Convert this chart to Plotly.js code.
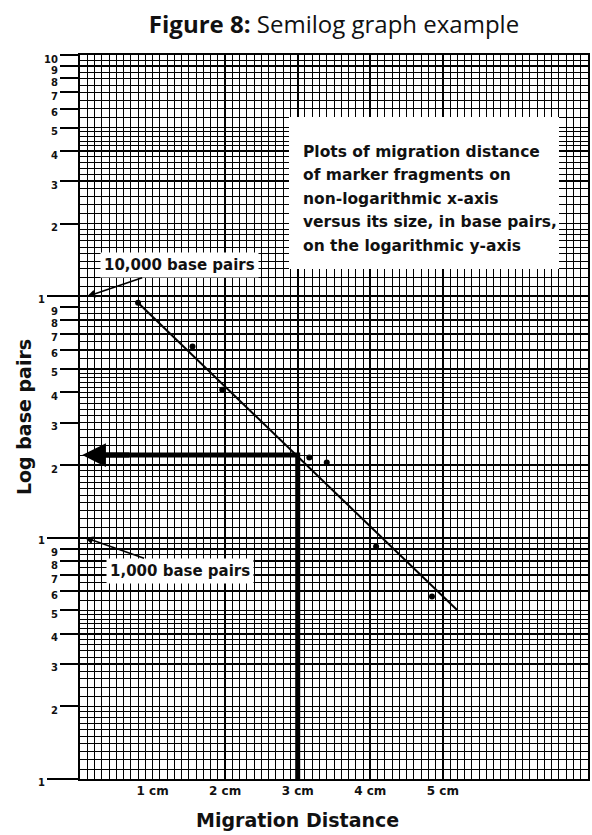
<!DOCTYPE html>
<html>
<head>
<meta charset="utf-8">
<script src="https://cdn.plot.ly/plotly-3.0.1.min.js"></script>
<style>html,body{margin:0;padding:0;background:#fff;}#chart{width:592px;height:835px;}</style>
</head>
<body>
<div id="chart"></div>
<script>
// ---- data ----
const markerDistanceCm = [0.80, 1.55, 1.96, 3.16, 3.40, 4.08, 4.85];
const markerBasePairs  = [9400, 6200, 4100, 2150, 2050, 920, 570];
const fitDistanceCm = [0.80, 5.20];
const fitBasePairs  = [9400, 500];
const readDistanceCm = 3;
const readBasePairs  = 2200;

const xTickVals = [1, 2, 3, 4, 5, 6, 7];
const xTickText = ['1 cm', '2 cm', '3 cm', '4 cm', '5 cm', '', ''];

const yTickVals = [200, 300, 400, 500, 600, 700, 800, 900,
                   2000, 3000, 4000, 5000, 6000, 7000, 8000, 9000,
                   20000, 30000, 40000, 50000, 60000, 70000, 80000, 90000, 100000];
const yTickText = ['2','3','4','5','6','7','8','9',
                   '2','3','4','5','6','7','8','9',
                   '2','3','4','5','6','7','8','9','10'];
const yDecadeVals = [100, 1000, 10000];
const yDecadeText = ['1', '1', '1'];

const infoText = ['Plots of migration distance', 'of marker fragments on',
                  'non-logarithmic x-axis', 'versus its size, in base pairs,',
                  'on the logarithmic y-axis'];

// minor grid subdivisions of the semilog paper
const yMinor = [];
[100, 1000, 10000].forEach(function (d) {
  for (let v = 1.1; v < 2 - 1e-9; v += 0.1) yMinor.push(+(v * d).toFixed(3));
  for (let v = 2.2; v < 5 - 1e-9; v += 0.2) { if (Math.abs(v - Math.round(v)) > 1e-6) yMinor.push(+(v * d).toFixed(3)); }
  for (let v = 5.5; v < 10 - 1e-9; v += 1) yMinor.push(+(v * d).toFixed(3));
});

const gothic = '"DejaVu Sans", sans-serif';
const ink = '#111';

const traces = [
  { x: [readDistanceCm, readDistanceCm, 0.3], y: [100, readBasePairs, readBasePairs],
    mode: 'lines', line: { color: '#000', width: 5 }, hoverinfo: 'skip', showlegend: false, cliponaxis: false },
  { x: fitDistanceCm, y: fitBasePairs, mode: 'lines', line: { color: '#000', width: 2 }, showlegend: false },
  { x: markerDistanceCm, y: markerBasePairs, mode: 'markers', marker: { color: '#000', size: 6 }, showlegend: false },
  { x: [null], y: [null], yaxis: 'y2', mode: 'markers', showlegend: false, hoverinfo: 'skip' }
];

const infoAnnotations = infoText.map(function (line, i) {
  const centerPx = 151.5 + i * 23.5;
  return { xref: 'paper', yref: 'paper', x: (301 - 80) / 508, y: 1 - (centerPx - 55) / 724,
           xanchor: 'left', yanchor: 'middle', align: 'left', showarrow: false, text: line,
           font: { family: gothic, size: 15.5, color: ink, weight: 'bold' } };
});

const layout = {
  width: 592, height: 835,
  margin: { l: 80, r: 4, t: 55, b: 56 },
  paper_bgcolor: '#fff', plot_bgcolor: '#fff',
  showlegend: false,
  title: { text: '<b>Figure 8:</b> Semilog graph example',
           font: { family: '"Open Sans", "Noto Sans", sans-serif', size: 24, color: ink },
           x: 0.5, xref: 'paper', xanchor: 'center', y: 1 - 25 / 835, yref: 'container', yanchor: 'middle' },
  xaxis: {
    range: [0, 7], tickmode: 'array', tickvals: xTickVals, ticktext: xTickText,
    ticks: '', ticklabelstandoff: 0,
    tickfont: { family: gothic, size: 12, color: ink, weight: 'bold' },
    showgrid: true, gridcolor: '#000', gridwidth: 1.8,
    minor: { dtick: 0.1, showgrid: true, gridcolor: '#000', gridwidth: 1 },
    showline: true, mirror: true, linecolor: '#000', linewidth: 2, zeroline: false, fixedrange: true
  },
  yaxis: {
    type: 'log', range: [2, 5], tickmode: 'array', tickvals: yTickVals, ticktext: yTickText,
    ticks: 'outside', ticklen: 18, tickwidth: 2, tickcolor: '#000', ticklabelshift: 4,
    tickfont: { family: gothic, size: 10, color: ink, weight: 'bold' },
    showgrid: true, gridcolor: '#000', gridwidth: 1.6,
    minor: { tickmode: 'array', tickvals: yMinor, showgrid: true, gridcolor: '#000', gridwidth: 1, ticks: '' },
    showline: true, mirror: true, linecolor: '#000', linewidth: 2, zeroline: false, fixedrange: true,
    title: { text: 'Log base pairs', font: { family: gothic, size: 19, color: ink, weight: 'bold' }, standoff: 7 }
  },
  yaxis2: {
    type: 'log', range: [2, 5], overlaying: 'y', side: 'left',
    tickmode: 'array', tickvals: yDecadeVals, ticktext: yDecadeText,
    ticks: 'outside', ticklen: 32, tickwidth: 2, tickcolor: '#000', ticklabelshift: 3,
    tickfont: { family: gothic, size: 10, color: ink, weight: 'bold' },
    showgrid: true, gridcolor: '#000', gridwidth: 2.2, zeroline: false, fixedrange: true
  },
  shapes: [
    { type: 'rect', xref: 'paper', yref: 'paper', x0: (289 - 80) / 508, x1: (559 - 80) / 508,
      y0: 1 - (269 - 55) / 724, y1: 1 - (117 - 55) / 724, fillcolor: '#fff', line: { width: 0 }, layer: 'above' }
  ],
  annotations: infoAnnotations.concat([
    { x: 0.1, y: Math.log10(10000), xref: 'x', yref: 'y', text: '10,000 base pairs', showarrow: true,
      ax: 92, ay: -31, arrowhead: 2, arrowsize: 1, arrowwidth: 1.6, arrowcolor: '#000',
      bgcolor: '#fff', borderpad: 3, font: { family: gothic, size: 15, color: ink, weight: 'bold' } },
    { x: 0.07, y: Math.log10(1000), xref: 'x', yref: 'y', text: '1,000 base pairs', showarrow: true,
      ax: 95, ay: 33, arrowhead: 2, arrowsize: 1, arrowwidth: 1.6, arrowcolor: '#000',
      bgcolor: '#fff', borderpad: 3, font: { family: gothic, size: 15, color: ink, weight: 'bold' } },
    { x: 0.03, y: Math.log10(readBasePairs), xref: 'x', yref: 'y', axref: 'x', ayref: 'y',
      ax: 0.7, ay: Math.log10(readBasePairs), text: '', showarrow: true,
      arrowhead: 2, arrowsize: 0.95, arrowwidth: 5, arrowcolor: '#000', standoff: 0 },
    { x: readDistanceCm, y: -(820 - 779) / 724, xref: 'x', yref: 'paper', xanchor: 'center', yanchor: 'middle',
      showarrow: false, text: 'Migration Distance',
      font: { family: gothic, size: 19, color: ink, weight: 'bold' } }
  ])
};

Plotly.newPlot('chart', traces, layout, { staticPlot: true, displayModeBar: false });
</script>
</body>
</html>
